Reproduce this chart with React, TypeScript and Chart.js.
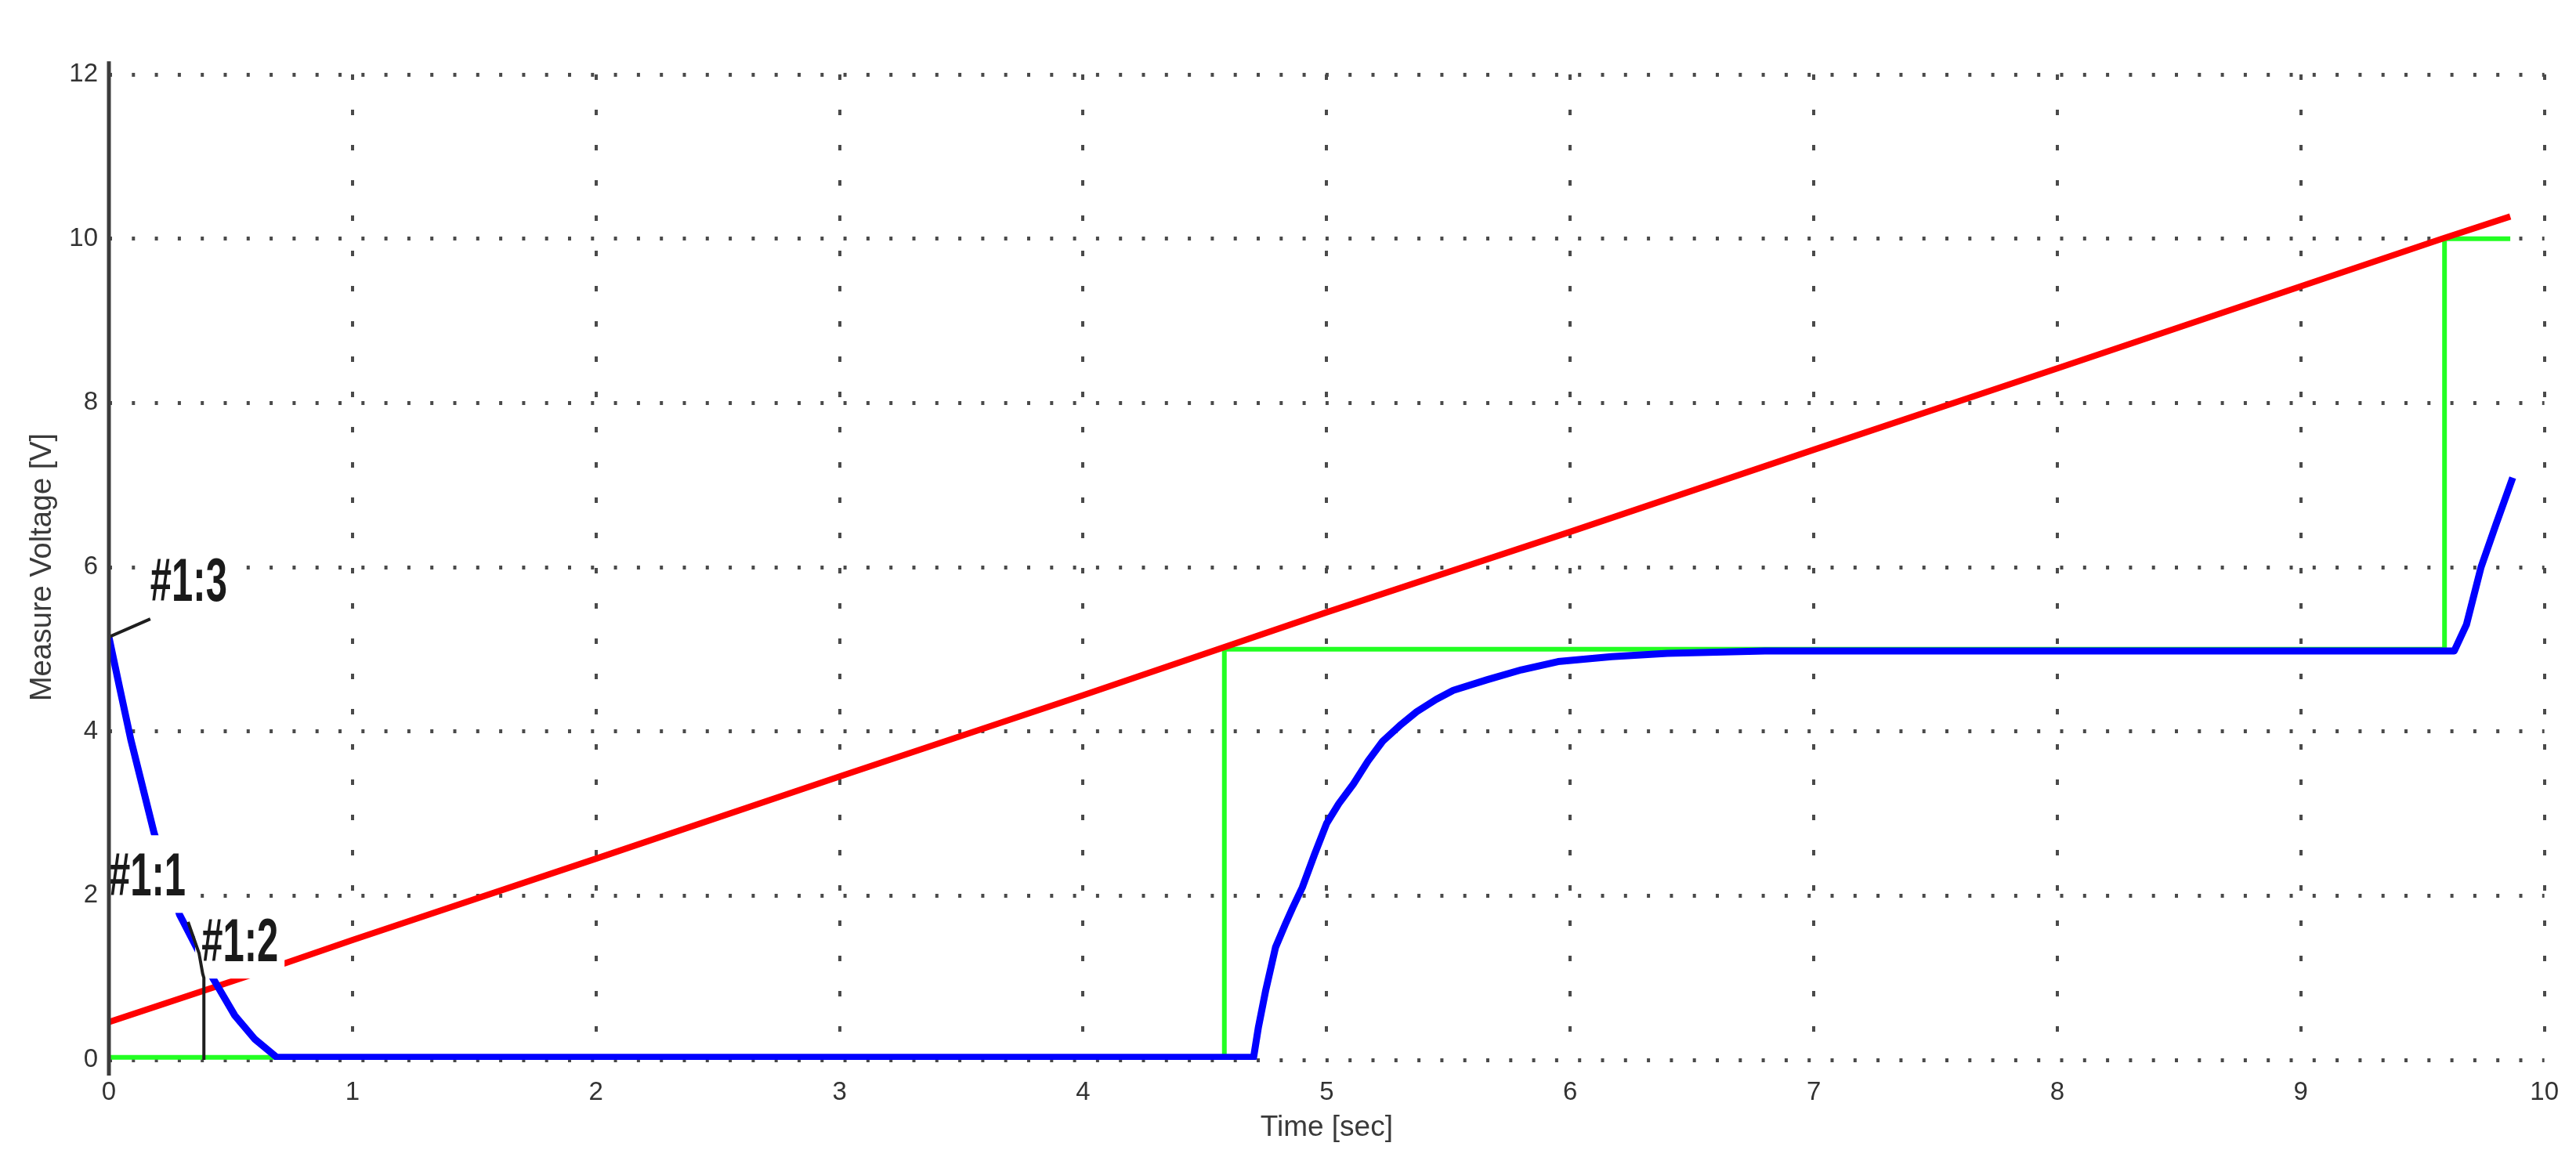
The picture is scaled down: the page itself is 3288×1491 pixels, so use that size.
import React, { useEffect, useRef } from 'react';
import Chart from 'chart.js/auto';

// ---- data ----
const X_MIN = 0;
const X_MAX = 10;
const Y_MIN = 0;
const Y_MAX = 12;

const BLUE_T = [0, 0.045, 0.09, 0.185, 0.29, 0.375, 0.43, 0.517, 0.6, 0.69, 4.7, 4.72, 4.75, 4.79, 4.83, 4.86, 4.9, 4.95, 5.0, 5.05, 5.11, 5.17, 5.23, 5.3, 5.37, 5.45, 5.52, 5.66, 5.8, 5.95, 6.17, 6.4, 6.8, 9.63, 9.68, 9.74, 9.8, 9.87];
const BLUE_V = [5.15, 4.52, 3.9, 2.77, 1.77, 1.28, 0.98, 0.54, 0.25, 0.03, 0.03, 0.4, 0.85, 1.37, 1.65, 1.85, 2.1, 2.5, 2.88, 3.12, 3.36, 3.64, 3.88, 4.07, 4.24, 4.39, 4.5, 4.63, 4.75, 4.85, 4.91, 4.95, 4.98, 4.98, 5.3, 6.0, 6.51, 7.09];

const RED_T = [0, 0.57, 1, 2, 3, 4, 5, 6, 7, 8, 9, 9.58, 9.86];
const RED_V = [0.46, 1.02, 1.46, 2.45, 3.45, 4.44, 5.45, 6.43, 7.43, 8.42, 9.42, 10.0, 10.27];

const GREEN_T = [0, 4.58, 4.58, 9.59, 9.59, 9.86];
const GREEN_V = [0.03, 0.03, 5.0, 5.0, 10.0, 10.0];

// marker leader lines (null value = break)
const MARKER_T = [0, 0.17, 0.2, 0.325, 0.37, 0.385, 0.39, 0.39];
const MARKER_V = [5.15, 5.37, null, 1.68, 1.3, 1.05, 1.0, 0];

// y axis line extent
const AXIS_T = [0, 0];
const AXIS_V = [-0.19, 12.16];

const MARKER_LABELS = ['#1:1', '#1:2', '#1:3'];
const MARKER_LABEL_T = [0.0, 0.38, 0.17];
const MARKER_LABEL_V = [2.0, 1.2, 5.59];

const X_TITLE = 'Time [sec]';
const Y_TITLE = 'Measure Voltage [V]';

const toPoints = (t: number[], v: (number | null)[]) => t.map((x, i) => ({ x, y: v[i] }));

const FONT = "'Liberation Sans', Arial, sans-serif";
const MARKER_INDEX = 3;

export default function App() {
  const ref = useRef<HTMLCanvasElement>(null);

  useEffect(() => {
    document.body.style.margin = '0';
    document.body.style.overflow = 'hidden';
    const canvas = ref.current;
    if (!canvas) return;

    const labelPlugin = {
      id: 'markerLabels',
      beforeDatasetDraw(chart: any, args: any) {
        if (args.index !== MARKER_INDEX) return;
        const c = chart.ctx;
        const xs = chart.scales.x;
        const ys = chart.scales.y;
        const size = 49;
        const stretch = 1.57;
        const padX = 8;
        const padY = 22;
        c.save();
        c.font = `bold ${size}px ${FONT}`;
        c.textBaseline = 'alphabetic';
        c.textAlign = 'left';
        MARKER_LABELS.forEach((text, i) => {
          const px = xs.getPixelForValue(MARKER_LABEL_T[i]);
          const py = ys.getPixelForValue(MARKER_LABEL_V[i]);
          const w = c.measureText(text).width;
          const capH = size * 0.716 * stretch;
          c.fillStyle = '#ffffff';
          c.fillRect(px - padX, py - capH - padY, w + 2 * padX, capH + 2 * padY);
          c.save();
          c.translate(px, py);
          c.scale(1, stretch);
          c.fillStyle = '#1a1a1a';
          c.fillText(text, 0, 0);
          c.restore();
        });
        c.restore();
      },
    };

    const chart = new Chart(canvas, {
      type: 'line',
      data: {
        datasets: [
          {
            label: 'blue',
            data: toPoints(BLUE_T, BLUE_V),
            borderColor: '#0000ff',
            borderWidth: 9,
            pointRadius: 0,
            tension: 0,
            borderJoinStyle: 'round',
            order: 1,
          },
          {
            label: 'red',
            data: toPoints(RED_T, RED_V),
            borderColor: '#ff0000',
            borderWidth: 8,
            pointRadius: 0,
            tension: 0,
            order: 2,
          },
          {
            label: 'green',
            data: toPoints(GREEN_T, GREEN_V),
            borderColor: '#22ff22',
            borderWidth: 6,
            pointRadius: 0,
            tension: 0,
            order: 3,
          },
          {
            label: 'markers',
            data: toPoints(MARKER_T, MARKER_V),
            borderColor: '#1e1e1e',
            borderWidth: 4,
            pointRadius: 0,
            tension: 0,
            spanGaps: false,
            order: 0,
          },
          {
            label: 'axis',
            data: toPoints(AXIS_T, AXIS_V),
            borderColor: '#3c3c3c',
            borderWidth: 5,
            pointRadius: 0,
            tension: 0,
            clip: false,
            order: -1,
          } as any,
        ],
      },
      options: {
        animation: false,
        responsive: false,
        devicePixelRatio: 1,
        layout: { padding: { top: 95, right: 35, left: 0, bottom: 0 } },
        plugins: {
          legend: { display: false },
          tooltip: { enabled: false },
        },
        scales: {
          x: {
            type: 'linear',
            min: X_MIN,
            max: X_MAX,
            afterFit: (s: any) => { s.height = 138; },
            ticks: {
              stepSize: 1,
              padding: 22,
              color: '#333333',
              font: { size: 33, family: FONT },
            },
            grid: {
              color: '#4a4a4a',
              lineWidth: 4,
              drawTicks: false,
            },
            border: { display: false, dash: [7, 38] },
            title: {
              display: true,
              text: X_TITLE,
              color: '#3a3a3a',
              font: { size: 37, family: FONT },
              padding: { top: 0, bottom: 29 },
            },
          },
          y: {
            type: 'linear',
            min: Y_MIN,
            max: Y_MAX,
            afterFit: (s: any) => { s.width = 139; },
            ticks: {
              stepSize: 2,
              padding: 14,
              color: '#333333',
              font: { size: 33, family: FONT },
            },
            grid: {
              color: '#4a4a4a',
              lineWidth: 5,
              drawTicks: false,
            },
            border: { display: false, dash: [4, 25.3] },
            title: {
              display: true,
              text: Y_TITLE,
              color: '#3a3a3a',
              font: { size: 38, family: FONT },
              padding: { top: 32, bottom: 0 },
            },
          },
        },
      } as any,
      plugins: [labelPlugin],
    });

    return () => chart.destroy();
  }, []);

  return (
    <div style={{ width: 3288, height: 1491, background: '#ffffff' }}>
      <canvas ref={ref} width={3288} height={1491} style={{ display: 'block', width: 3288, height: 1491 }} />
    </div>
  );
}
